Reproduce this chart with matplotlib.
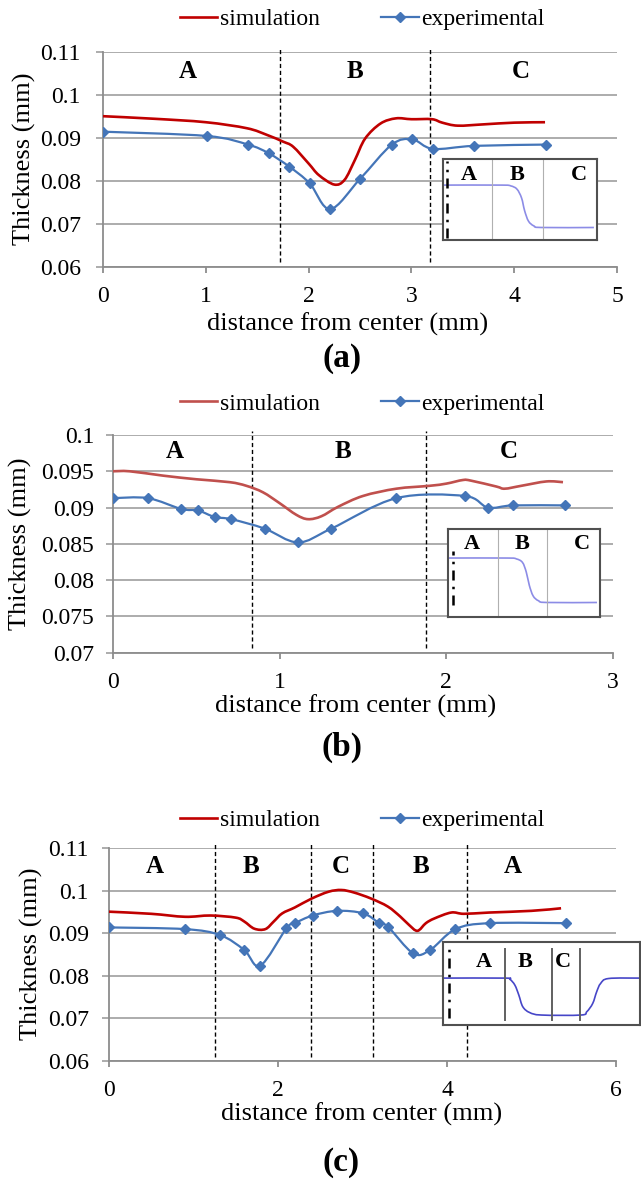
import numpy as np
import matplotlib
matplotlib.use('Agg')
from matplotlib import pyplot as plt
from matplotlib.path import Path
from matplotlib.patches import PathPatch
from matplotlib.lines import Line2D

plt.rcParams['font.family'] = ['Liberation Serif', 'DejaVu Serif']

# ---- panel (a) ----
a_exp_x = [0, 1.01, 1.41, 1.61, 1.81, 2.01, 2.21, 2.50, 2.81, 3.01, 3.21, 3.61, 4.31]
a_exp_y = [0.0914, 0.0904, 0.0884, 0.0864, 0.0833, 0.0794, 0.0734, 0.0804, 0.0884, 0.0896, 0.0874, 0.0881, 0.0884]
a_sim_x = [0, 0.5, 1.0, 1.4, 1.6, 1.75, 1.85, 2.0, 2.1, 2.25, 2.35, 2.45, 2.55, 2.7, 2.85, 3.0, 3.2, 3.3, 3.45, 3.7, 4.0, 4.3]
a_sim_y = [0.0950, 0.0944, 0.0936, 0.0922, 0.0906, 0.0891, 0.0879, 0.0840, 0.0813, 0.0791, 0.0802, 0.0848, 0.0898,
           0.0933, 0.0945, 0.0943, 0.0943, 0.0935, 0.0928, 0.0931, 0.0935, 0.0936]
a_bounds = [1.725, 3.18]
a_regions = ['A', 'B', 'C']
a_region_x = [0.82, 2.45, 4.06]

# ---- panel (b) ----
b_exp_x = [0, 0.21, 0.41, 0.51, 0.61, 0.71, 0.91, 1.11, 1.31, 1.70, 2.11, 2.25, 2.40, 2.71]
b_exp_y = [0.0913, 0.0913, 0.0898, 0.0896, 0.0887, 0.0884, 0.0871, 0.0852, 0.0871, 0.0913, 0.0916, 0.0900, 0.0903, 0.0903]
b_sim_x = [0, 0.1, 0.3, 0.5, 0.7, 0.8, 0.9, 1.0, 1.1, 1.17, 1.25, 1.35, 1.5, 1.7, 1.9, 2.0, 2.1, 2.15, 2.3, 2.35, 2.45, 2.6, 2.7]
b_sim_y = [0.0950, 0.0950, 0.0944, 0.0939, 0.0935, 0.0930, 0.0921, 0.0906, 0.0890, 0.0884, 0.0888, 0.0901, 0.0916,
           0.0926, 0.0930, 0.0933, 0.0938, 0.0937, 0.0929, 0.0926, 0.0930, 0.0936, 0.0935]
b_bounds = [0.835, 1.877]
b_regions = ['A', 'B', 'C']
b_region_x = [0.37, 1.38, 2.375]

# ---- panel (c) ----
c_exp_x = [0, 0.90, 1.315, 1.60, 1.79, 2.10, 2.20, 2.41, 2.70, 3.01, 3.20, 3.30, 3.60, 3.80, 4.10, 4.505, 5.41]
c_exp_y = [0.0914, 0.0910, 0.0896, 0.0861, 0.0824, 0.0912, 0.0924, 0.0942, 0.0953, 0.0947, 0.0924, 0.0916, 0.0853,
           0.0861, 0.0910, 0.0924, 0.0924]
c_sim_x = [0, 0.5, 0.9, 1.2, 1.5, 1.6, 1.72, 1.85, 1.95, 2.05, 2.2, 2.4, 2.6, 2.75, 2.9, 3.1, 3.3, 3.45, 3.55, 3.65,
           3.75, 3.85, 4.05, 4.2, 4.5, 5.0, 5.35]
c_sim_y = [0.0951, 0.0946, 0.0939, 0.0942, 0.0937, 0.0928, 0.0911, 0.0910, 0.0928, 0.0947, 0.0961, 0.0982, 0.0998,
           0.1002, 0.0996, 0.0982, 0.0963, 0.0939, 0.0920, 0.0906, 0.0924, 0.0935, 0.0949, 0.0946, 0.0949, 0.0953, 0.0959]
c_bounds = [1.257, 2.387, 3.127, 4.238]
c_regions = ['A', 'B', 'C', 'B', 'A']
c_region_x = [0.536, 1.68, 2.74, 3.69, 4.78]

# ---- inset sketches (fractions of the inset box) ----
ia_x = [0, 0.38, 0.44, 0.48, 0.51, 0.53, 0.555, 0.59, 0.64, 0.98]
ia_y = [0.68, 0.68, 0.67, 0.63, 0.52, 0.36, 0.23, 0.17, 0.15, 0.15]
ib_x = [0, 0.39, 0.45, 0.49, 0.515, 0.535, 0.56, 0.595, 0.65, 0.98]
ib_y = [0.67, 0.67, 0.66, 0.62, 0.51, 0.36, 0.24, 0.185, 0.165, 0.165]
ic_x = [0, 0.315, 0.34, 0.365, 0.385, 0.405, 0.44, 0.50, 0.70, 0.73, 0.76, 0.78, 0.80, 0.84, 1.0]
ic_y = [0.565, 0.565, 0.55, 0.48, 0.36, 0.22, 0.15, 0.12, 0.12, 0.16, 0.26, 0.40, 0.50, 0.56, 0.565]

SIM_RED = '#C00000'
SIM_RED_B = '#C0504D'
EXP_BLUE = '#4475B8'
GRID = '#A6A6A6'


def smooth_path(x, y):
    # Excel-like smoothed line: cubic Bezier through every point
    pts = np.column_stack([x, y]).astype(float)
    n = len(pts)
    verts = [pts[0]]
    codes = [Path.MOVETO]
    for i in range(n - 1):
        p0 = pts[max(i - 1, 0)]
        p1 = pts[i]
        p2 = pts[i + 1]
        p3 = pts[min(i + 2, n - 1)]
        verts += [p1 + (p2 - p0) / 6, p2 - (p3 - p1) / 6, p2]
        codes += [Path.CURVE4] * 3
    return Path(verts, codes)


def draw_panel(rect, xlim, xticks, ylim, yticks, ytick_fmt, sim, exp, bounds, regions, region_x, region_y,
               sim_color, ytick_pad):
    ax = fig.add_axes(rect)
    ax.set_xlim(*xlim)
    ax.set_ylim(*ylim)
    ax.set_xticks(xticks)
    ax.set_yticks(yticks)
    ax.set_yticklabels(ytick_fmt)
    ax.grid(axis='y', color=GRID, lw=1.3)
    ax.set_axisbelow(True)
    for s in ['top', 'right']:
        ax.spines[s].set_visible(False)
    for s in ['left', 'bottom']:
        ax.spines[s].set_color('#8C8C8C')
        ax.spines[s].set_linewidth(1.3)
    ax.tick_params(axis='y', length=5, width=1.3, color=GRID, pad=ytick_pad, labelsize=17)
    ax.tick_params(axis='x', length=4, width=1.3, color='#8C8C8C', pad=10, labelsize=17)
    for b in bounds:
        ax.plot([b, b], [ylim[0] + 0.02 * (ylim[1] - ylim[0]), ylim[1] + 0.02 * (ylim[1] - ylim[0])],
                color='black', lw=1, ls=(0, (3, 2)), clip_on=False)
    for lab, rx in zip(regions, region_x):
        ax.text(rx, region_y, lab, ha='center', va='center', fontsize=18, fontweight='bold')
    ax.add_patch(PathPatch(smooth_path(*sim), fill=False, edgecolor=sim_color, lw=1.9, zorder=3))
    ax.add_patch(PathPatch(smooth_path(*exp), fill=False, edgecolor=EXP_BLUE, lw=1.6, zorder=3))
    ax.plot(exp[0], exp[1], ls='none', marker='D', ms=5.5, color=EXP_BLUE, zorder=4)
    return ax


def draw_legend(ax, sim_color, y_fig):
    handles = [Line2D([], [], color=sim_color, lw=1.9),
               Line2D([], [], color=EXP_BLUE, lw=1.6, marker='D', ms=5.5)]
    ax.legend(handles, ['simulation', 'experimental'], ncol=2, loc='center',
              bbox_to_anchor=(362 / 641, y_fig), bbox_transform=fig.transFigure, frameon=False,
              fontsize=17, handlelength=1.6, handletextpad=0.1, columnspacing=2.6, borderpad=0)


def draw_inset(rect, x, y, color, gray_lines, gray_span, gray_col, gray_lw, dd_x, dd_span, labels, label_x, label_y):
    ia = fig.add_axes(rect)
    ia.set_xlim(0, 1)
    ia.set_ylim(0, 1)
    ia.set_xticks([])
    ia.set_yticks([])
    ia.set_facecolor('white')
    for s in ia.spines.values():
        s.set_color('#505050')
        s.set_linewidth(1.5)
    for g in gray_lines:
        ia.plot([g, g], gray_span, color=gray_col, lw=gray_lw)
    ia.plot([dd_x, dd_x], dd_span, color='black', lw=1.8, ls=(0, (4, 2.5, 1, 2.5)))
    ia.add_patch(PathPatch(smooth_path(x, y), fill=False, edgecolor=color, lw=1.2))
    for lab, lx in zip(labels, label_x):
        ia.text(lx, label_y, lab, ha='center', va='center', fontsize=16, fontweight='bold')
    return ia


def fig_rect(left, top, right, bottom):
    W, H = 641, 1180
    return [left / W, 1 - bottom / H, (right - left) / W, (bottom - top) / H]


fig = plt.figure(figsize=(6.41, 11.8), dpi=100)

# (a)
ax_a = draw_panel(fig_rect(103, 51.7, 617, 266.7), (0, 5), [0, 1, 2, 3, 4, 5], (0.06, 0.11),
                  [0.06, 0.07, 0.08, 0.09, 0.10, 0.11], ['0.06', '0.07', '0.08', '0.09', '0.1', '0.11'],
                  (a_sim_x, a_sim_y), (a_exp_x, a_exp_y), a_bounds, a_regions, a_region_x, 0.1054,
                  SIM_RED, 11)
draw_legend(ax_a, SIM_RED, 1 - 19 / 1180)
fig.text(24 / 641, 1 - 159 / 1180, 'Thickness (mm)', rotation=90, ha='center', va='center', fontsize=19)
fig.text(348 / 641, 1 - 324 / 1180, 'distance from center (mm)', ha='center', va='center', fontsize=19)
fig.text(342 / 641, 1 - 358 / 1180, '(a)', ha='center', va='center', fontsize=24, fontweight='bold')
draw_inset(fig_rect(443, 159.5, 597, 239.5), ia_x, ia_y, '#8C8CE6', [0.32, 0.65], [0, 1], '#B0B0B0', 0.8,
           0.026, [0.02, 0.98], ['A', 'B', 'C'], [0.167, 0.48, 0.88], 0.80)

# (b)
ax_b = draw_panel(fig_rect(113, 435, 613, 652.7), (0, 3), [0, 1, 2, 3], (0.07, 0.1),
                  [0.07, 0.075, 0.08, 0.085, 0.09, 0.095, 0.1],
                  ['0.07', '0.075', '0.08', '0.085', '0.09', '0.095', '0.1'],
                  (b_sim_x, b_sim_y), (b_exp_x, b_exp_y), b_bounds, b_regions, b_region_x, 0.0977,
                  SIM_RED_B, 8.5)
draw_legend(ax_b, SIM_RED_B, 1 - 404 / 1180)
fig.text(20 / 641, 1 - 544 / 1180, 'Thickness (mm)', rotation=90, ha='center', va='center', fontsize=19)
fig.text(356 / 641, 1 - 706 / 1180, 'distance from center (mm)', ha='center', va='center', fontsize=19)
fig.text(342 / 641, 1 - 747 / 1180, '(b)', ha='center', va='center', fontsize=24, fontweight='bold')
draw_inset(fig_rect(448, 529, 600, 617), ib_x, ib_y, '#8C8CE6', [0.33, 0.65], [0, 1], '#B0B0B0', 0.8,
           0.033, [0.14, 0.75], ['A', 'B', 'C'], [0.16, 0.49, 0.88], 0.83)

# (c)
ax_c = draw_panel(fig_rect(109, 848.3, 616, 1061), (0, 6), [0, 2, 4, 6], (0.06, 0.11),
                  [0.06, 0.07, 0.08, 0.09, 0.10, 0.11], ['0.06', '0.07', '0.08', '0.09', '0.1', '0.11'],
                  (c_sim_x, c_sim_y), (c_exp_x, c_exp_y), c_bounds, c_regions, c_region_x, 0.1057,
                  SIM_RED, 9.5)
draw_legend(ax_c, SIM_RED, 1 - 820 / 1180)
fig.text(31 / 641, 1 - 954 / 1180, 'Thickness (mm)', rotation=90, ha='center', va='center', fontsize=19)
fig.text(362 / 641, 1 - 1114 / 1180, 'distance from center (mm)', ha='center', va='center', fontsize=19)
fig.text(341 / 641, 1 - 1162 / 1180, '(c)', ha='center', va='center', fontsize=24, fontweight='bold')
draw_inset(fig_rect(443, 942, 640, 1025), ic_x, ic_y, '#4646C8', [0.315, 0.554, 0.695], [0.06, 0.92],
           '#606060', 1.4, 0.03, [0.08, 0.91], ['A', 'B', 'C'], [0.207, 0.419, 0.61], 0.754)

fig.savefig('out.png', dpi=100)
